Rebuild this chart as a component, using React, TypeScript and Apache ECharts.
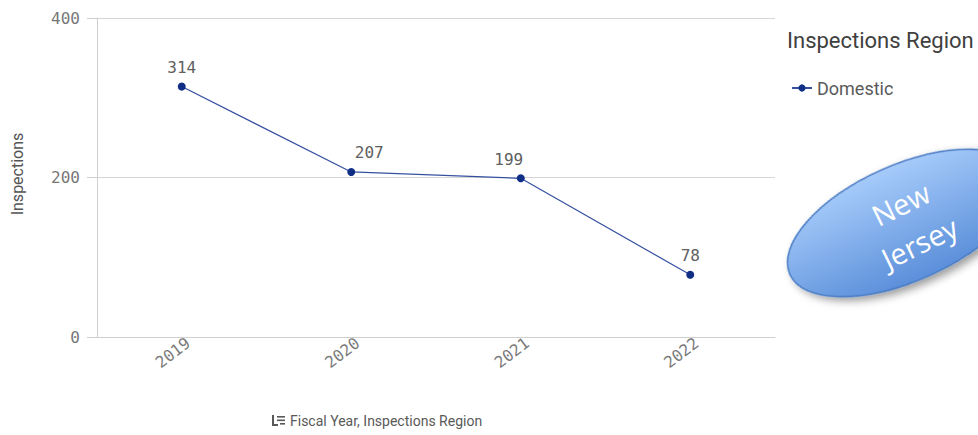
import React, { useEffect, useRef } from "react";
import * as echarts from "echarts";

const years = ["2019", "2020", "2021", "2022"];
const domestic = [314, 207, 199, 78];
const yTicks = { min: 0, max: 400, interval: 200 };
const seriesName = "Domestic";
const legendTitle = "Inspections Region";
const yName = "Inspections";
const xName = "Fiscal Year, Inspections Region";
const badgeText = "New\nJersey";
const labelDx = [0, 18, -12, 0];

export default function App() {
  const ref = useRef<HTMLDivElement>(null);
  useEffect(() => {
    if (!ref.current) return;
    const chart = echarts.init(ref.current, null, { renderer: "svg" });
    const mono = "DejaVu Sans Mono";
    const sans = "Roboto";
    const rot = (24 * Math.PI) / 180;
    chart.setOption({
      animation: false,
      backgroundColor: "#ffffff",
      grid: { left: 97, right: 203, top: 18, bottom: 98, containLabel: false },
      xAxis: {
        type: "category",
        data: years,
        boundaryGap: true,
        axisLine: { show: true, lineStyle: { color: "#cfcfcf", width: 1 } },
        axisTick: { show: false },
        axisLabel: {
          rotate: 37,
          margin: 9,
          color: "#7a7a7a",
          fontFamily: mono,
          fontSize: 16,
          padding: [0, -8, 0, 0],
        },
      },
      yAxis: {
        type: "value",
        min: yTicks.min,
        max: yTicks.max,
        interval: yTicks.interval,
        axisLine: { show: true, lineStyle: { color: "#cfcfcf", width: 1 } },
        axisTick: { show: true, length: 10, lineStyle: { color: "#cfcfcf" } },
        splitLine: { show: true, lineStyle: { color: "#d6d6d6", width: 1 } },
        axisLabel: {
          margin: 17,
          color: "#777777",
          fontFamily: mono,
          fontSize: 16,
        },
      },
      legend: {
        show: true,
        left: 786,
        top: 74,
        itemWidth: 20,
        itemHeight: 9,
        itemGap: 8,
        data: [seriesName],
        textStyle: { color: "#5a5a5a", fontFamily: sans, fontSize: 18 },
      },
      series: [
        {
          name: seriesName,
          type: "line",
          data: domestic.map((v, i) => ({
            value: v,
            label: { offset: [labelDx[i], 0] },
          })),
          symbol: "circle",
          symbolSize: 8,
          itemStyle: { color: "#0f2f86" },
          lineStyle: { color: "#3550a0", width: 1.2 },
          label: {
            show: true,
            position: "top",
            distance: 7,
            color: "#606060",
            fontFamily: mono,
            fontSize: 16,
          },
        },
      ],
      graphic: [
        {
          type: "text",
          left: 787,
          top: 29,
          style: {
            text: legendTitle,
            fill: "#404040",
            font: `22px ${sans}`,
          },
        },
        {
          type: "text",
          x: 17,
          y: 174,
          rotation: Math.PI / 2,
          style: {
            text: yName,
            fill: "#555555",
            font: `16px ${sans}`,
            align: "center",
            verticalAlign: "middle",
          },
        },
        {
          type: "text",
          x: 290,
          y: 421,
          style: {
            text: xName,
            fill: "#595959",
            font: `14px ${sans}`,
            align: "left",
            verticalAlign: "middle",
          },
        },
        {
          type: "group",
          x: 272,
          y: 415,
          children: [
            { type: "rect", shape: { x: 0, y: 0, width: 2, height: 11 }, style: { fill: "#595959" } },
            { type: "rect", shape: { x: 0, y: 9, width: 6, height: 2 }, style: { fill: "#595959" } },
            { type: "rect", shape: { x: 5, y: 1, width: 8, height: 1.6 }, style: { fill: "#595959" } },
            { type: "rect", shape: { x: 5, y: 4.5, width: 8, height: 1.6 }, style: { fill: "#595959" } },
            { type: "rect", shape: { x: 8, y: 8, width: 5, height: 1.6 }, style: { fill: "#595959" } },
          ],
        },
        {
          type: "ellipse",
          x: 905,
          y: 223,
          rotation: rot,
          shape: { cx: 0, cy: 0, rx: 126, ry: 58 },
          style: {
            fill: new echarts.graphic.LinearGradient(0, 0, 0, 1, [
              { offset: 0, color: "#a6cbfa" },
              { offset: 1, color: "#5b8fda" },
            ]),
            stroke: "#4a7cc4",
            lineWidth: 1.5,
            shadowBlur: 8,
            shadowColor: "rgba(0,0,0,0.4)",
            shadowOffsetX: 3,
            shadowOffsetY: 5,
          },
          z: 10,
        },
        {
          type: "text",
          x: 910,
          y: 223,
          rotation: (26 * Math.PI) / 180,
          style: {
            text: badgeText,
            fill: "#ffffff",
            font: `29px "Open Sans"`,
            align: "center",
            verticalAlign: "middle",
            lineHeight: 43,
          },
          z: 11,
        },
      ],
    });
    return () => chart.dispose();
  }, []);
  return (
    <div
      ref={ref}
      style={{ position: "fixed", left: 0, top: 0, width: 978, height: 435 }}
    />
  );
}
